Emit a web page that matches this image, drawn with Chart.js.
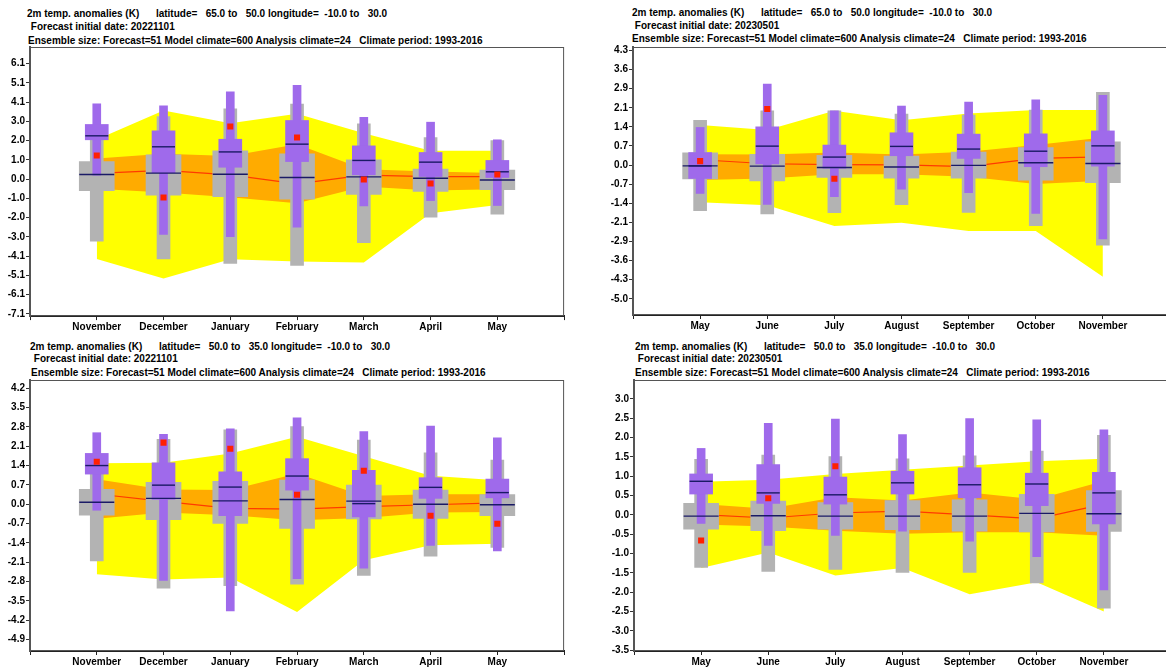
<!DOCTYPE html>
<html>
<head>
<meta charset="utf-8">
<script src="https://cdn.jsdelivr.net/npm/chart.js@4.4.1/dist/chart.umd.min.js"></script>
<style>
  html, body { margin: 0; padding: 0; background: #fff; }
  body { position: relative; width: 1166px; height: 670px; overflow: hidden; }
  .panel { position: absolute; }
  .t { position: absolute; font: bold 10px "Liberation Sans", Arial, sans-serif; white-space: pre; color: #000; line-height: 12px; }
</style>
</head>
<body>

<div class="t" style="left:27px;top:8px">2m temp. anomalies (K)      latitude=   65.0 to   50.0 longitude=  -10.0 to   30.0</div>
<div class="t" style="left:28px;top:21px"> Forecast initial date: 20221101</div>
<div class="t" style="left:28px;top:35px">Ensemble size: Forecast=51 Model climate=600 Analysis climate=24   Climate period: 1993-2016</div>

<div class="t" style="left:632px;top:7px">2m temp. anomalies (K)      latitude=   65.0 to   50.0 longitude=  -10.0 to   30.0</div>
<div class="t" style="left:632px;top:20px"> Forecast initial date: 20230501</div>
<div class="t" style="left:632px;top:33px">Ensemble size: Forecast=51 Model climate=600 Analysis climate=24   Climate period: 1993-2016</div>

<div class="t" style="left:30px;top:341px">2m temp. anomalies (K)      latitude=   50.0 to   35.0 longitude=  -10.0 to   30.0</div>
<div class="t" style="left:31px;top:353px"> Forecast initial date: 20221101</div>
<div class="t" style="left:31px;top:367px">Ensemble size: Forecast=51 Model climate=600 Analysis climate=24   Climate period: 1993-2016</div>

<div class="t" style="left:635px;top:341px">2m temp. anomalies (K)      latitude=   50.0 to   35.0 longitude=  -10.0 to   30.0</div>
<div class="t" style="left:635px;top:353px"> Forecast initial date: 20230501</div>
<div class="t" style="left:635px;top:367px">Ensemble size: Forecast=51 Model climate=600 Analysis climate=24   Climate period: 1993-2016</div>

<div class="panel" style="left:0px;top:0px;width:583px;height:335px"><canvas id="pNorthNov"></canvas></div>
<div class="panel" style="left:603px;top:0px;width:600px;height:335px"><canvas id="pNorthMay"></canvas></div>
<div class="panel" style="left:0px;top:335px;width:583px;height:335px"><canvas id="pSouthNov"></canvas></div>
<div class="panel" style="left:604px;top:335px;width:600px;height:335px"><canvas id="pSouthMay"></canvas></div>

<script>
// ---- month labels ----
const monthsNov = ['November', 'December', 'January', 'February', 'March', 'April', 'May'];
const monthsMay = ['May', 'June', 'July', 'August', 'September', 'October', 'November'];

// ---- y tick labels (evenly stepped) ----
const ticksNorthNov = ['6.1', '5.1', '4.1', '3.0', '2.0', '1.0', '0.0', '-1.0', '-2.0', '-3.0', '-4.1', '-5.1', '-6.1', '-7.1'];
const ticksNorthMay = ['4.3', '3.6', '2.9', '2.1', '1.4', '0.7', '0.0', '-0.7', '-1.4', '-2.1', '-2.9', '-3.6', '-4.3', '-5.0'];
const ticksSouthNov = ['4.2', '3.5', '2.8', '2.1', '1.4', '0.7', '0.0', '-0.7', '-1.4', '-2.1', '-2.8', '-3.5', '-4.2', '-4.9'];
const ticksSouthMay = ['3.0', '2.5', '2.0', '1.5', '1.0', '0.5', '0.0', '-0.5', '-1.0', '-1.5', '-2.0', '-2.5', '-3.0', '-3.5'];

// ===== Northern box (65N-50N), forecast from 20221101 =====
const nnClimHi     = [2.1, 3.63, 2.96, 3.45, 2.43, 1.5, 1.5];
const nnClimLo     = [-4.21, -5.25, -4.23, -4.35, -4.4, -1.8, -1.36];
const nnClimQ75    = [1.09, 1.34, 1.22, 1.85, 0.53, 0.4, 0.32];
const nnClimQ25    = [-0.5, -0.7, -0.95, -1.27, -0.39, -0.6, -0.53];
const nnClimMed    = [0.31, 0.47, 0.23, -0.25, 0.21, 0.14, 0.14];
const nnModelMin   = [-3.27, -4.21, -4.45, -4.56, -3.35, -2.01, -1.85];
const nnModelMax   = [2.2, 3.31, 3.71, 3.96, 2.92, 2.2, 2.04];
const nnModelQ25   = [-0.6, -0.85, -0.92, -1.06, -0.81, -0.65, -0.56];
const nnModelQ75   = [0.93, 1.29, 1.5, 1.34, 1.02, 0.53, 0.48];
const nnModelMed   = [0.25, 0.32, 0.26, 0.09, 0.12, 0.05, -0.04];
const nnFcMin      = [0.21, -2.92, -3.03, -2.54, -1.41, -1.13, -1.39];
const nnFcMax      = [3.98, 3.87, 4.61, 4.95, 3.27, 3.01, 2.08];
const nnFcQ25      = [2.08, 0.35, 0.63, 0.93, 0.23, 0.14, 0.09];
const nnFcQ75      = [2.89, 2.55, 2.11, 3.1, 1.76, 1.41, 0.99];
const nnFcMed      = [2.29, 1.71, 1.44, 1.85, 0.99, 0.9, 0.39];
const nnAnalysis   = [1.25, -0.97, 2.78, 2.2, -0.02, -0.23, 0.25];

// ===== Northern box (65N-50N), forecast from 20230501 =====
const nmClimHi     = [1.5, 1.31, 2.03, 1.68, 1.93, 2.06, 2.06];
const nmClimLo     = [-1.39, -1.5, -2.28, -2.16, -2.47, -2.47, -4.18];
const nmClimQ75    = [0.41, 0.4, 0.47, 0.4, 0.5, 0.75, 1.03];
const nmClimQ25    = [-0.56, -0.5, -0.34, -0.34, -0.44, -0.71, -0.59];
const nmClimMed    = [0.2, 0.05, 0.02, 0.01, -0.06, 0.25, 0.31];
const nmModelMin   = [-1.71, -1.83, -1.78, -1.48, -1.77, -2.27, -3.0];
const nmModelMax   = [1.68, 2.03, 2.03, 1.91, 1.87, 2.06, 2.72];
const nmModelQ25   = [-0.52, -0.59, -0.46, -0.49, -0.49, -0.56, -0.66];
const nmModelQ75   = [0.46, 0.4, 0.37, 0.34, 0.49, 0.66, 0.87];
const nmModelMed   = [-0.03, -0.04, -0.09, -0.07, -0.01, 0.09, 0.06];
const nmFcMin      = [-1.06, -1.47, -1.18, -0.9, -1.03, -1.81, -2.76];
const nmFcMax      = [1.41, 3.03, 2.03, 2.21, 2.36, 2.44, 2.61];
const nmFcQ25      = [-0.5, 0.04, -0.12, 0.35, 0.25, -0.06, -0.04];
const nmFcQ75      = [0.47, 1.43, 0.75, 1.21, 1.16, 1.17, 1.28];
const nmFcMed      = [-0.03, 0.71, 0.3, 0.7, 0.6, 0.52, 0.72];
const nmAnalysis   = [0.15, 2.1, -0.51, null, null, null, null];

// ===== Southern box (50N-35N), forecast from 20221101 =====
const snClimHi     = [1.48, 1.5, 1.84, 2.44, 1.74, 1.03, 0.87];
const snClimLo     = [-2.54, -2.73, -2.66, -3.91, -2.03, -1.49, -1.43];
const snClimQ75    = [0.9, 0.53, 0.51, 1.11, 0.3, 0.36, 0.36];
const snClimQ25    = [-0.53, -0.3, -0.4, -0.58, -0.5, -0.3, -0.28];
const snClimMed    = [0.37, 0.1, -0.15, -0.18, -0.09, -0.02, 0.05];
const snModelMin   = [-2.06, -3.04, -2.95, -2.9, -2.58, -1.88, -1.57];
const snModelMax   = [1.3, 2.35, 2.69, 2.81, 2.32, 1.86, 1.6];
const snModelQ25   = [-0.4, -0.56, -0.7, -0.88, -0.53, -0.52, -0.42];
const snModelQ75   = [0.54, 0.79, 0.83, 0.87, 0.69, 0.51, 0.35];
const snModelMed   = [0.07, 0.21, 0.12, 0.17, 0.11, 0.0, -0.02];
const snFcMin      = [-0.22, -2.76, -3.87, -2.7, -2.32, -1.49, -1.69];
const snFcMax      = [2.59, 2.53, 2.73, 3.13, 2.63, 2.83, 2.4];
const snFcQ25      = [1.09, 0.17, -0.42, 0.51, -0.46, 0.21, 0.23];
const snFcQ75      = [1.84, 1.5, 1.17, 1.65, 1.23, 0.96, 0.91];
const snFcMed      = [1.4, 0.69, 0.62, 1.02, 0.02, 0.61, 0.42];
const snAnalysis   = [1.54, 2.23, 2.01, 0.34, 1.21, -0.42, -0.71];

// ===== Southern box (50N-35N), forecast from 20230501 =====
const smClimHi     = [0.86, 0.91, 1.06, 1.17, 1.28, 1.39, 1.45];
const smClimLo     = [-1.37, -0.97, -1.57, -1.37, -2.05, -1.74, -2.5];
const smClimQ75    = [0.28, 0.16, 0.46, 0.37, 0.58, 0.4, 0.88];
const smClimQ25    = [-0.25, -0.3, -0.41, -0.49, -0.45, -0.45, -0.54];
const smClimMed    = [0.01, -0.08, 0.05, 0.1, 0.0, -0.1, 0.28];
const smModelMin   = [-1.36, -1.46, -1.41, -1.49, -1.49, -1.76, -2.41];
const smModelMax   = [1.44, 1.55, 1.51, 1.45, 1.53, 1.65, 2.06];
const smModelQ25   = [-0.37, -0.41, -0.37, -0.38, -0.42, -0.44, -0.43];
const smModelQ75   = [0.3, 0.36, 0.32, 0.37, 0.39, 0.53, 0.63];
const smModelMed   = [-0.03, -0.02, -0.03, -0.03, -0.03, 0.04, 0.03];
const smFcMin      = [-0.22, -0.79, -0.53, -0.42, -0.68, -1.08, -1.94];
const smFcMax      = [1.72, 2.37, 2.48, 2.08, 2.49, 2.46, 2.2];
const smFcQ25      = [0.54, 0.3, 0.28, 0.54, 0.44, 0.24, -0.23];
const smFcQ75      = [1.06, 1.3, 0.98, 1.13, 1.22, 1.08, 1.1];
const smFcMed      = [0.87, 0.57, 0.52, 0.83, 0.78, 0.8, 0.57];
const smAnalysis   = [-0.66, 0.43, 1.26, null, null, null, null];

// ---- styling ----
const FONT = { family: '"Liberation Sans", Arial, sans-serif', size: 10, weight: 'bold' };
const YELLOW = '#ffff00';
const ORANGE = '#ffab00';
const GREY = '#b3b3b3';
const PURPLE = '#9f6aeb';
const NAVY = '#1a1a66';
const CLIM_LINE = '#ff3a00';
const ANALYSIS = '#ff2000';
const NONE = 'rgba(0,0,0,0)';

// frame around the plotting area
const framePlugin = {
  id: 'frame',
  afterDatasetsDraw(chart) {
    const { ctx, chartArea: a } = chart;
    ctx.save();
    ctx.strokeStyle = '#555';
    ctx.lineWidth = 1;
    ctx.strokeRect(a.left + 0.5, a.top + 0.5, a.right - a.left - 1, a.bottom - a.top - 1);
    ctx.restore();
  }
};

const pad = arr => [null, ...arr, null];
const span = (lo, hi) => pad(lo.map((v, i) => [v, hi[i]]));

function climagram(id, s, layout) {
  const labels = ['', ...s.months, ''];
  const zeroIdx = s.ticks.indexOf('0.0');
  const bandLine = (data, fill, color, order) => ({
    type: 'line', data: pad(data), borderColor: NONE, borderWidth: 0, pointRadius: 0,
    fill: fill, backgroundColor: color, order: order
  });
  const bar = (data, color, width, order) => ({
    type: 'bar', data: data, backgroundColor: color, borderWidth: 0, barThickness: width,
    grouped: false, order: order
  });
  const tick = (data, radius, order) => ({
    type: 'line', data: pad(data), showLine: false, pointStyle: 'line', pointRadius: radius,
    pointBorderColor: NAVY, pointBorderWidth: 1.4, pointBackgroundColor: NAVY, order: order
  });

  new Chart(document.getElementById(id), {
    type: 'bar',
    data: {
      labels: labels,
      datasets: [
        bandLine(s.climLo, false, NONE, 100),
        bandLine(s.climHi, { target: 0 }, YELLOW, 99),
        bandLine(s.climQ25, false, NONE, 98),
        bandLine(s.climQ75, { target: 2 }, ORANGE, 97),
        { type: 'line', data: pad(s.climMed), borderColor: CLIM_LINE, borderWidth: 1.2, pointRadius: 0, fill: false, order: 96 },
        bar(span(s.modelMin, s.modelMax), GREY, 13, 95),
        bar(span(s.modelQ25, s.modelQ75), GREY, 35, 94),
        bar(span(s.fcMin, s.fcMax), PURPLE, 8, 93),
        bar(span(s.fcQ25, s.fcQ75), PURPLE, 23, 92),
        tick(s.modelMed, 17.5, 91),
        tick(s.fcMed, 11.5, 90),
        { type: 'line', data: pad(s.analysis), showLine: false, pointStyle: 'rect', pointRadius: 4.3,
          pointBackgroundColor: ANALYSIS, pointBorderWidth: 0, pointBorderColor: ANALYSIS, order: 89 }
      ]
    },
    options: {
      responsive: true,
      maintainAspectRatio: false,
      animation: false,
      events: [],
      layout: { padding: { top: layout.top, right: layout.right, left: 0, bottom: 0 } },
      plugins: { legend: { display: false }, tooltip: { enabled: false } },
      scales: {
        x: {
          offset: false,
          grid: { offset: false, drawOnChartArea: false, drawTicks: true, tickLength: 4, color: '#222' },
          border: { display: true, color: '#222', width: 2 },
          ticks: { autoSkip: false, maxRotation: 0, minRotation: 0, font: FONT, color: '#000', padding: 1 },
          afterFit: sc => { sc.height = layout.xHeight; }
        },
        y: {
          min: s.yMin,
          max: s.yMax,
          afterBuildTicks: sc => {
            sc.ticks = s.ticks.map((_, i) => ({ value: (zeroIdx - i) * s.step })).reverse();
          },
          ticks: {
            autoSkip: false, font: FONT, color: '#000', padding: 1,
            callback: v => s.ticks[zeroIdx - Math.round(v / s.step)]
          },
          grid: { drawOnChartArea: false, drawTicks: true, tickLength: 4, color: '#333' },
          border: { display: true, color: '#555', width: 2 },
          afterFit: sc => { sc.width = layout.yWidth; }
        }
      }
    },
    plugins: [framePlugin]
  });
}

climagram('pNorthNov', {
  months: monthsNov, ticks: ticksNorthNov, step: 1.0167, yMin: -7.23, yMax: 6.98,
  climHi: nnClimHi, climLo: nnClimLo, climQ75: nnClimQ75, climQ25: nnClimQ25, climMed: nnClimMed,
  modelMin: nnModelMin, modelMax: nnModelMax, modelQ25: nnModelQ25, modelQ75: nnModelQ75, modelMed: nnModelMed,
  fcMin: nnFcMin, fcMax: nnFcMax, fcQ25: nnFcQ25, fcQ75: nnFcQ75, fcMed: nnFcMed, analysis: nnAnalysis
}, { top: 47, right: 15, yWidth: 30, xHeight: 18 });

climagram('pNorthMay', {
  months: monthsMay, ticks: ticksNorthMay, step: 0.715, yMin: -5.61, yMax: 4.42,
  climHi: nmClimHi, climLo: nmClimLo, climQ75: nmClimQ75, climQ25: nmClimQ25, climMed: nmClimMed,
  modelMin: nmModelMin, modelMax: nmModelMax, modelQ25: nmModelQ25, modelQ75: nmModelQ75, modelMed: nmModelMed,
  fcMin: nmFcMin, fcMax: nmFcMax, fcQ25: nmFcQ25, fcQ75: nmFcQ75, fcMed: nmFcMed, analysis: nmAnalysis
}, { top: 47, right: 33, yWidth: 30, xHeight: 20 });

climagram('pSouthNov', {
  months: monthsNov, ticks: ticksSouthNov, step: 0.7, yMin: -5.32, yMax: 4.5,
  climHi: snClimHi, climLo: snClimLo, climQ75: snClimQ75, climQ25: snClimQ25, climMed: snClimMed,
  modelMin: snModelMin, modelMax: snModelMax, modelQ25: snModelQ25, modelQ75: snModelQ75, modelMed: snModelMed,
  fcMin: snFcMin, fcMax: snFcMax, fcQ25: snFcQ25, fcQ75: snFcQ75, fcMed: snFcMed, analysis: snAnalysis
}, { top: 45, right: 14, yWidth: 30, xHeight: 19 });

climagram('pSouthMay', {
  months: monthsMay, ticks: ticksSouthMay, step: 0.5, yMin: -3.52, yMax: 3.49,
  climHi: smClimHi, climLo: smClimLo, climQ75: smClimQ75, climQ25: smClimQ25, climMed: smClimMed,
  modelMin: smModelMin, modelMax: smModelMax, modelQ25: smModelQ25, modelQ75: smModelQ75, modelMed: smModelMed,
  fcMin: smFcMin, fcMax: smFcMax, fcQ25: smFcQ25, fcQ75: smFcQ75, fcMed: smFcMed, analysis: smAnalysis
}, { top: 45, right: 33, yWidth: 30, xHeight: 19 });
</script>
</body>
</html>
